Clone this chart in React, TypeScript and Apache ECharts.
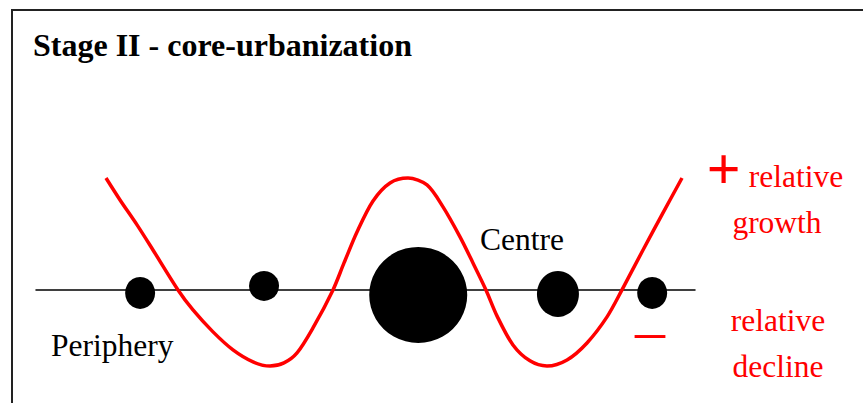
import React, { useEffect, useRef } from "react";
import * as echarts from "echarts";

// Horizontal position along the urban axis (0 = left end, 100 = right end)
const curveX = [10.62, 12.75, 15.33, 17.75, 21.55, 23.82, 26.86, 29.89, 32.93, 35.51, 37.63, 39.61, 42.03, 45.07, 46.74, 48.71, 51.14, 53.72, 56.45, 59.33, 61.76, 64.34, 66.31, 68.28, 69.95, 72.38, 74.96, 77.54, 80.58, 83.61, 86.65, 88.92, 92.11, 95.14, 98.03];
// Relative growth (+) / decline (-)
const curveY = [1.0, 0.804, 0.581, 0.357, 0, -0.179, -0.375, -0.536, -0.643, -0.68, -0.652, -0.563, -0.34, 0, 0.241, 0.518, 0.795, 0.956, 1.0, 0.938, 0.742, 0.474, 0.241, 0, -0.232, -0.492, -0.634, -0.68, -0.626, -0.474, -0.241, 0, 0.357, 0.688, 1.0];

// Settlements (dots) along the axis
const dotX = [15.8, 34.6, 58.0, 79.2, 93.5];
const dotY = [-0.027, 0.036, -0.045, -0.036, -0.027];
const dotW = [30, 30, 98, 42, 30];
const dotH = [32, 30, 96, 46, 32];

const TITLE = "Stage II - core-urbanization";
const SERIF = "'Liberation Serif', 'Times New Roman', serif";

export default function App() {
  const ref = useRef<HTMLDivElement>(null);
  useEffect(() => {
    if (!ref.current) return;
    const chart = echarts.init(ref.current, null, { renderer: "svg" });
    const labelStyle = (text: string, x: number, y: number, color: string, align: string, size = 31.5, weight = "normal") => ({
      type: "text",
      x,
      y,
      silent: true,
      style: {
        text,
        fill: color,
        font: `${weight} ${size}px ${SERIF}`,
        textAlign: align,
        textVerticalAlign: "middle",
      },
    });
    chart.setOption({
      animation: false,
      backgroundColor: "#ffffff",
      grid: { left: 36, right: 168, top: 178, bottom: 37 },
      xAxis: {
        type: "value",
        min: 0,
        max: 100,
        axisLine: { show: true, onZero: true, lineStyle: { color: "#000", width: 1.5 } },
        axisTick: { show: false },
        axisLabel: { show: false },
        splitLine: { show: false },
      },
      yAxis: {
        type: "value",
        min: -0.68,
        max: 1,
        axisLine: { show: false },
        axisTick: { show: false },
        axisLabel: { show: false },
        splitLine: { show: false },
      },
      series: [
        {
          type: "scatter",
          clip: false,
          z: 2,
          itemStyle: { color: "#000", opacity: 1 },
          data: dotX.map((x, i) => ({ value: [x, dotY[i]], symbolSize: [dotW[i], dotH[i]] })),
        },
        {
          type: "line",
          clip: false,
          z: 3,
          smooth: 0.3,
          showSymbol: false,
          lineStyle: { color: "#ff0000", width: 3.5 },
          data: curveX.map((x, i) => [x, curveY[i]]),
        },
      ],
      graphic: [
        {
          type: "rect",
          silent: true,
          shape: { x: 12, y: 10, width: 1000, height: 600 },
          style: { fill: "none", stroke: "#222", lineWidth: 2 },
        },
        labelStyle(TITLE, 33, 45, "#000", "left", 32, "bold"),
        labelStyle("Periphery", 51, 345.5, "#000", "left"),
        labelStyle("Centre", 480, 239.5, "#000", "left"),
        labelStyle("+", 723.5, 168.5, "#ff0000", "center", 60, "bold"),
        labelStyle("relative", 796, 176.5, "#ff0000", "center"),
        labelStyle("growth", 777, 222.5, "#ff0000", "center"),
        labelStyle("\u2013", 650, 329.7, "#ff0000", "center", 60),
        labelStyle("relative", 778, 320.5, "#ff0000", "center"),
        labelStyle("decline", 778, 366.5, "#ff0000", "center"),
      ],
    });
    return () => chart.dispose();
  }, []);
  return (
    <div
      ref={ref}
      style={{ position: "fixed", left: 0, top: 0, width: 863, height: 403, background: "#fff" }}
    />
  );
}
